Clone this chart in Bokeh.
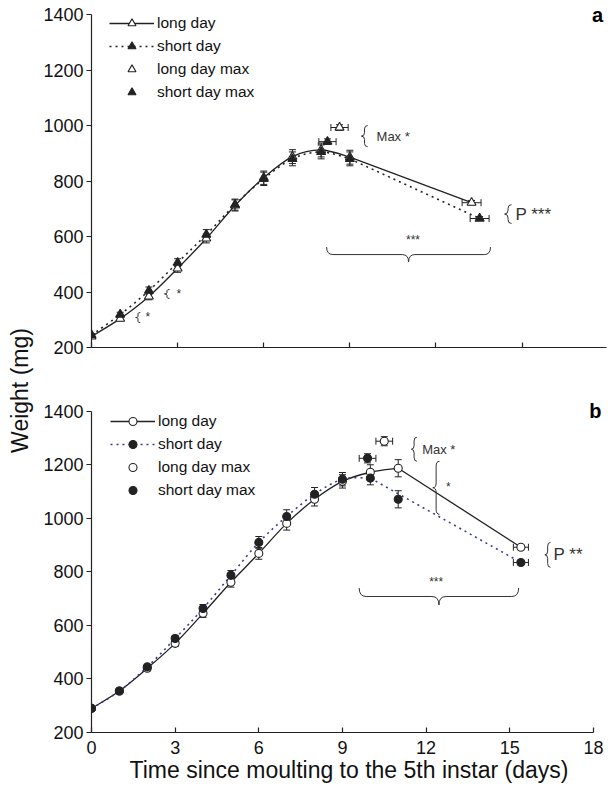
import math
from bokeh.plotting import figure
from bokeh.models import (ColumnDataSource, Whisker, TeeHead, Legend, LegendItem,
                          Label, Range1d, FixedTicker)
from bokeh.layouts import row, column
from bokeh.embed import file_html
from bokeh.resources import INLINE

FONT = "Liberation Sans"
INK = "#222222"
NAVY = "#3a3a9c"

# ---------------- data: panel a (triangles) ----------------
a_days = [0, 1, 2, 3, 4, 5, 6, 7, 8, 9]
a_long = [240, 304, 384, 485, 593, 712, 812, 888, 912, 886]
a_long_err = [5, 8, 12, 14, 16, 20, 24, 25, 25, 25]
a_short = [245, 319, 405, 506, 607, 715, 808, 880, 905, 880]
a_short_err = [5, 8, 13, 14, 18, 20, 24, 25, 25, 25]
a_end_day = [13.24, 13.52]        # long, short (pupation)
a_end_w = [722, 665]
a_end_err = [8, 7]
a_end_xerr = [0.33, 0.33]
a_max_day = [8.64, 8.22]          # long max, short max
a_max_w = [993, 942]
a_max_err = [10, 10]
a_max_xerr = [0.3, 0.3]

# ---------------- data: panel b (circles) ----------------
b_days = [0, 1, 2, 3, 4, 5, 6, 7, 8, 9, 10, 11]
b_long = [290, 355, 440, 533, 645, 761, 869, 981, 1071, 1138, 1172, 1187]
b_long_err = [6, 8, 10, 12, 15, 18, 22, 25, 25, 25, 28, 32]
b_short = [290, 355, 445, 551, 663, 787, 910, 1007, 1090, 1146, 1150, 1071]
b_short_err = [6, 8, 10, 12, 15, 18, 22, 25, 25, 25, 25, 32]
b_end_day = [15.4, 15.4]
b_end_w = [892, 835]
b_end_err = [8, 8]
b_end_xerr = [0.27, 0.27]
b_max_day = [10.5, 9.9]
b_max_w = [1288, 1224]
b_max_err = [17, 17]
b_max_xerr = [0.3, 0.3]
b_short_line_n = 11   # short-day line runs through the first 11 points

y_ticks = [200, 400, 600, 800, 1000, 1200, 1400]
x_ticks = [0, 3, 6, 9, 12, 15, 18]
legend_labels = ["long day", "short day", "long day max", "short day max"]
x_title = "Time since moulting to the 5th instar (days)"
y_title = "Weight (mg)"

DOT = "2 4"


def make_fig(width, height, left, right, top, bottom, xend, show_xlabels, xbounds):
    p = figure(width=width, height=height, x_range=Range1d(0, xend),
               y_range=Range1d(200, 1440), output_backend="svg",
               toolbar_location=None, min_border_left=left,
               min_border_right=right, min_border_top=top,
               min_border_bottom=bottom)
    p.xgrid.visible = False
    p.ygrid.visible = False
    p.outline_line_color = None
    p.background_fill_color = "white"
    for ax in (p.xaxis[0], p.yaxis[0]):
        ax.axis_line_color = INK
        ax.axis_line_width = 1.2
        ax.major_tick_line_color = INK
        ax.major_tick_line_width = 1.2
        ax.minor_tick_line_color = None
        ax.major_label_text_font = FONT
        ax.major_label_text_font_size = "18px"
        ax.major_label_text_color = "#111111"
    p.yaxis.ticker = FixedTicker(ticks=y_ticks)
    p.yaxis.bounds = (200, 1400)
    p.yaxis.major_tick_out = 5
    p.yaxis.major_tick_in = 0
    p.yaxis.major_label_standoff = 3
    p.xaxis.ticker = FixedTicker(ticks=x_ticks)
    if xbounds is not None:
        p.xaxis.bounds = xbounds
    p.xaxis.major_tick_in = 5
    p.xaxis.major_tick_out = 0
    p.xaxis.major_label_standoff = 8
    if not show_xlabels:
        p.xaxis.major_label_text_color = None
    return p


def whiskers(p, base, center, err, dimension):
    src = ColumnDataSource(dict(base=base,
                                lower=[c - e for c, e in zip(center, err)],
                                upper=[c + e for c, e in zip(center, err)]))
    w = Whisker(source=src, base="base", lower="lower", upper="upper",
                dimension=dimension, line_color=INK, line_width=1,
                level="underlay",
                upper_head=TeeHead(size=7, line_color=INK, line_width=1),
                lower_head=TeeHead(size=7, line_color=INK, line_width=1))
    p.add_layout(w)


def smooth(p, xs, ys, **kw):
    n = len(xs)
    d = dict(x0=[], y0=[], x1=[], y1=[], cx0=[], cy0=[], cx1=[], cy1=[])
    for i in range(n - 1):
        im, ip = max(i - 1, 0), min(i + 2, n - 1)
        d["x0"].append(xs[i]); d["y0"].append(ys[i])
        d["x1"].append(xs[i + 1]); d["y1"].append(ys[i + 1])
        d["cx0"].append(xs[i] + (xs[i + 1] - xs[im]) / 6)
        d["cy0"].append(ys[i] + (ys[i + 1] - ys[im]) / 6)
        d["cx1"].append(xs[i + 1] - (xs[ip] - xs[i]) / 6)
        d["cy1"].append(ys[i + 1] - (ys[ip] - ys[i]) / 6)
    p.bezier(source=ColumnDataSource(d), x0="x0", y0="y0", x1="x1", y1="y1",
             cx0="cx0", cy0="cy0", cx1="cx1", cy1="cy1", **kw)


def vbrace(p, x, y0, y1, w, r, color="#333333"):
    ym = (y0 + y1) / 2
    p.quadratic(x0=[x + w, x, x - w, x], y0=[y1, ym + r, ym, y0 + r],
                x1=[x, x - w, x, x + w], y1=[y1 - r, ym, ym - r, y0],
                cx=[x, x, x, x], cy=[y1, ym, ym, y0],
                line_color=color, line_width=1)
    p.segment(x0=[x, x], y0=[y1 - r, ym - r], x1=[x, x], y1=[ym + r, y0 + r],
              line_color=color, line_width=1)


def hbrace(p, x0, x1, y, h, r, color="#333333"):
    xm = (x0 + x1) / 2
    p.quadratic(x0=[x0, xm - r, xm, x1 - r], y0=[y + h, y, y - h, y],
                x1=[x0 + r, xm, xm + r, x1], y1=[y, y - h, y, y + h],
                cx=[x0, xm, xm, x1], cy=[y, y, y, y],
                line_color=color, line_width=1)
    p.segment(x0=[x0 + r, xm + r], y0=[y, y], x1=[xm - r, x1 - r], y1=[y, y],
              line_color=color, line_width=1)


def note(p, x, y, text, size, align="left", color="#333333", style="normal"):
    p.add_layout(Label(x=x, y=y, text=text, text_font=FONT,
                       text_font_size=size, text_color=color,
                       text_align=align, text_baseline="middle",
                       text_font_style=style))


def panel(p, days, lw, lerr, sw, serr, end_day, end_w, end_err, end_xerr,
          max_day, max_w, max_err, max_xerr, marker, size, short_color,
          short_n, legend_loc):
    whiskers(p, days, lw, lerr, "height")
    whiskers(p, days, sw, serr, "height")
    whiskers(p, end_day, end_w, end_err, "height")
    whiskers(p, end_w, end_day, end_xerr, "width")
    whiskers(p, max_day, max_w, max_err, "height")
    whiskers(p, max_w, max_day, max_xerr, "width")
    smooth(p, days, lw, line_color=INK, line_width=1.3)
    l_line = p.line([days[-1], end_day[0]], [lw[-1], end_w[0]],
                    line_color=INK, line_width=1.3)
    sd, sv = days[:short_n], sw[:short_n]
    smooth(p, sd, sv, line_color=short_color, line_width=1.6, line_dash=DOT)
    s_line = p.line([sd[-1], end_day[1]], [sv[-1], end_w[1]],
                    line_color=short_color, line_width=1.6, line_dash=DOT)
    l_pts = p.scatter(days + [end_day[0]], lw + [end_w[0]], marker=marker,
                      size=size, fill_color="white", line_color=INK, line_width=1.1)
    s_pts = p.scatter(days + [end_day[1]], sw + [end_w[1]], marker=marker,
                      size=size, fill_color=INK, line_color=INK, line_width=1.1)
    lmax = p.scatter([max_day[0]], [max_w[0]], marker=marker, size=size,
                     fill_color="white", line_color=INK, line_width=1.1)
    smax = p.scatter([max_day[1]], [max_w[1]], marker=marker, size=size,
                     fill_color=INK, line_color=INK, line_width=1.1)
    leg = Legend(items=[LegendItem(label=legend_labels[0], renderers=[l_line, l_pts]),
                        LegendItem(label=legend_labels[1], renderers=[s_line, s_pts]),
                        LegendItem(label=legend_labels[2], renderers=[lmax]),
                        LegendItem(label=legend_labels[3], renderers=[smax])],
                 location=legend_loc, label_text_font=FONT,
                 label_text_font_size="15.5px", label_text_color="#111111",
                 glyph_width=45, glyph_height=20, label_height=20,
                 spacing=3, padding=0, margin=0, label_standoff=3,
                 border_line_color=None, background_fill_alpha=0)
    p.add_layout(leg)


STRIP_W = 36
TOP_H = 379
BOT_H = 407

# ---------------- panel a ----------------
pa = make_fig(571, TOP_H, 55, 1, 3, 32, 17.94, False, None)
panel(pa, a_days, a_long, a_long_err, a_short, a_short_err, a_end_day, a_end_w,
      a_end_err, a_end_xerr, a_max_day, a_max_w, a_max_err, a_max_xerr,
      "triangle", 9, INK, len(a_days), (18, 245))
vbrace(pa, 9.51, 924, 1000, 0.11, 12)
note(pa, 9.93, 962, "Max *", "13px")
vbrace(pa, 14.51, 647, 715, 0.12, 14)
note(pa, 14.77, 681, "P ***", "17px")
hbrace(pa, 8.19, 13.9, 535, 27, 0.22)
note(pa, 11.2, 587, "***", "12px", align="center")
vbrace(pa, 2.63, 377, 409, 0.09, 4)
note(pa, 2.96, 394, "*", "12px")
vbrace(pa, 1.62, 290, 326, 0.08, 4)
note(pa, 1.88, 310, "*", "12px")
note(pa, 17.63, 1400, "a", "20px", align="center", color="#000000", style="bold")

# ---------------- panel b ----------------
pb = make_fig(571, BOT_H, 54, 1, 21, 54, 18.47, True, (0, 18))
panel(pb, b_days, b_long, b_long_err, b_short, b_short_err, b_end_day, b_end_w,
      b_end_err, b_end_xerr, b_max_day, b_max_w, b_max_err, b_max_xerr,
      "circle", 8, NAVY, b_short_line_n, (19, 232))
vbrace(pb, 11.57, 1213, 1303, 0.1, 14)
note(pb, 11.86, 1258, "Max *", "13px")
vbrace(pb, 12.36, 1015, 1213, 0.12, 18)
note(pb, 12.71, 1116, "*", "12px")
vbrace(pb, 16.36, 817, 910, 0.1, 14)
note(pb, 16.57, 863, "P **", "17px")
hbrace(pb, 9.6, 15.32, 708, 32, 0.25)
note(pb, 12.36, 762, "***", "12px", align="center")
note(pb, 18.07, 1400, "b", "20px", align="center", color="#000000", style="bold")
pb.xaxis.axis_label = x_title
pb.xaxis.axis_label_text_font = FONT
pb.xaxis.axis_label_text_font_size = "23px"
pb.xaxis.axis_label_text_font_style = "normal"
pb.xaxis.axis_label_text_color = "#111111"
pb.xaxis.axis_label_standoff = 0

# ---------------- y-axis title strip ----------------
H = TOP_H + BOT_H
py = figure(width=STRIP_W, height=H, x_range=Range1d(0, STRIP_W), y_range=Range1d(0, H),
            output_backend="svg", toolbar_location=None, min_border=0)
py.axis.visible = False
py.xgrid.visible = False
py.ygrid.visible = False
py.outline_line_color = None
py.add_layout(Label(x=19, y=H - 390, text=y_title, text_font=FONT,
                    text_font_size="23px", text_color="#111111",
                    text_align="center", text_baseline="middle",
                    angle=math.pi / 2))

layout = row(py, column(pa, pb))
open("out.html", "w").write(file_html(layout, INLINE))
